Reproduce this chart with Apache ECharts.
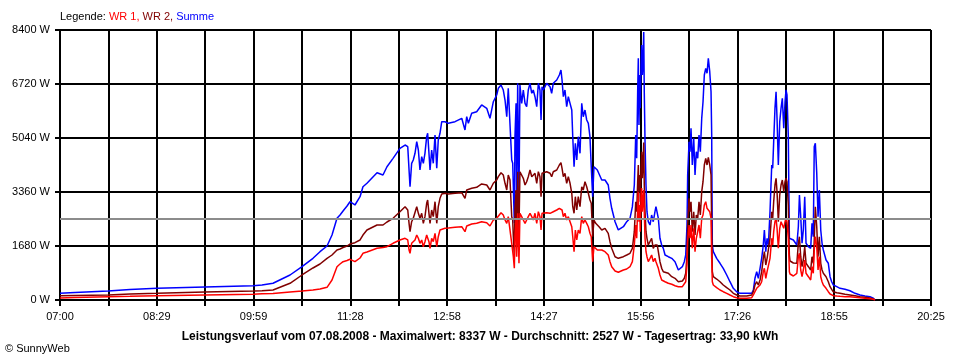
<!DOCTYPE html>
<html>
<head>
<meta charset="utf-8">
<script src="https://cdn.jsdelivr.net/npm/echarts@6/dist/echarts.min.js"></script>
<style>
html,body{margin:0;padding:0;background:#fff;}
#chart{width:960px;height:360px;}
</style>
</head>
<body>
<div id="chart"></div>
<script>
// time in minutes after 07:00
const minutes = [
0,13.9,44.4,64.7,89.6,134.0,178.4,186.7,196.9,212.6,
223.7,233.8,240.3,246.8,251.4,256.0,258.8,261.6,265.3,268.0,
272.6,277.3,280.0,283.7,293.0,298.5,302.2,307.8,314.2,318.9,
321.4,322.6,323.5,325.0,326.5,328.1,329.7,331.2,332.7,334.3,
335.8,337.3,338.9,339.8,341.0,342.0,343.5,345.0,346.6,348.2,
349.6,351.2,352.8,355.8,358.9,365.1,371.3,374.3,375.9,377.4,
380.5,385.1,389.7,394.4,397.4,400.5,403.6,405.1,407.6,409.7,
411.3,412.9,414.3,415.9,417.5,418.4,419.0,419.9,420.5,421.5,
422.1,423.0,424.2,425.1,426.7,428.2,429.8,431.3,432.8,434.4,
436.0,437.4,439.0,440.6,442.1,443.6,444.6,445.5,446.7,449.8,
452.9,454.4,455.9,459.1,461.5,463.0,464.0,465.2,466.7,468.3,
469.8,471.4,473.0,473.9,475.1,476.3,477.6,479.0,480.6,482.2,
483.6,485.2,486.8,488.3,489.8,491.0,492.3,493.5,495.1,496.6,
498.2,500.7,502.1,503.7,505.3,506.7,508.3,509.9,513.0,516.0,
517.6,520.7,523.8,526.8,529.0,530.8,532.1,533.0,533.9,534.5,
535.1,535.8,536.3,537.0,537.6,538.2,538.8,539.5,540.0,540.7,
541.6,542.5,543.7,545.3,546.8,548.3,549.9,550.8,552.0,553.0,
554.5,556.1,557.6,559.2,562.2,565.4,568.4,571.5,573.0,575.2,
577.0,578.3,579.5,580.1,581.4,582.3,583.2,584.4,585.7,586.9,
588.1,589.4,590.6,591.8,593.1,594.3,595.5,596.8,598.0,599.2,
600.5,601.7,602.3,602.9,603.8,606.9,610.0,613.0,616.2,619.2,
622.3,625.4,628.5,634.7,639.3,640.8,642.3,643.9,645.4,647.0,
648.5,650.0,651.0,652.3,653.5,654.7,656.2,657.8,658.7,659.6,
660.8,661.8,662.7,663.9,665.2,666.4,667.6,668.9,670.1,671.0,
671.9,673.1,674.1,674.7,677.8,681.0,682.4,683.4,684.6,685.8,
687.0,688.3,689.5,691.7,693.8,695.0,696.2,697.1,698.1,699.4,
700.6,701.8,703.1,704.3,705.5,708.0,710.1,711.7,713.2,714.7,
717.9,720.9,725.5,730.1,734.8,739.4,744.0,748.6,751.7,753.2
];

const wr1 = [
62,78,103,115,134,156,177,193,202,249,
280,311,342,395,622,1036,1120,1192,1229,1266,
1192,1307,1453,1493,1608,1633,1658,1764,1867,1920,
1867,1556,1453,1764,1814,1867,2022,1920,1764,1867,
1658,1814,2022,2075,1814,1608,1920,1814,2075,1658,
1969,2178,2231,2231,2240,2262,2280,2125,2302,2302,
2364,2386,2436,2405,2302,2489,2542,2592,2716,2644,
2489,2386,2592,2592,1764,1711,1347,986,1969,2489,
1347,2697,1142,2697,2592,2489,2386,2489,2592,2697,
2592,2489,2697,2386,2747,2592,2178,2697,2644,2716,
2697,2644,2747,2800,2853,2903,2800,2592,2697,2489,
2592,2436,2280,1969,1503,2178,1867,2178,2075,2592,
2386,2489,2386,2280,2075,1969,1192,1658,1608,1556,
1503,1556,1503,1503,1503,1400,1192,1036,902,862,
902,933,964,1036,1192,1711,2333,1920,2853,3369,
2436,2956,2125,3164,3484,2747,3058,3422,2747,1920,
1503,1347,1192,1297,1400,1192,1297,1192,1142,986,
778,622,569,569,520,488,445,414,364,414,
467,569,1089,1814,2333,1920,2333,1608,2231,1503,
1920,1920,2333,1920,2542,2644,2956,3058,2853,2903,
2747,2542,1297,569,467,383,311,258,208,156,
103,72,53,53,72,156,258,364,311,467,
569,880,986,675,880,880,1297,1920,1711,2125,
2436,2542,2231,1608,2231,2436,2489,2231,2436,2542,
2436,1920,880,809,747,831,1347,1453,933,725,
933,1244,831,725,622,1036,831,1556,1969,1658,
933,1347,725,569,467,364,258,187,156,134,
124,115,103,103,84,72,53,40,22,0
];

const wr2 = [
134,140,156,187,208,249,280,289,311,520,
778,996,1120,1297,1400,1556,1587,1633,1680,1742,
1783,1867,2022,2178,2333,2333,2427,2542,2747,2903,
2800,2386,2125,2436,2542,2592,2903,2697,2542,2697,
2386,2592,3008,3111,2697,2386,2800,2592,3058,2386,
2903,3164,3298,3320,3298,3320,3338,3164,3422,3369,
3475,3506,3609,3578,3422,3631,3733,3836,3960,3889,
3631,3422,3889,3733,2592,2489,1969,1347,2800,3422,
1764,3991,2178,3991,3942,3786,3578,3680,3836,4044,
3836,3786,3942,3631,3991,3836,3214,3942,3889,3991,
3942,3836,3991,4044,4200,4271,4097,3836,3942,3631,
3836,3631,3320,2903,2697,3214,2800,3214,2903,3525,
3422,3680,3525,3320,3111,3008,1969,2489,2386,2333,
2280,2178,2231,2231,2209,2075,1814,1608,1347,1297,
1322,1347,1400,1453,1608,2125,3058,2747,3680,4200,
3369,3889,3058,4097,4614,3786,4200,4900,3578,2747,
2125,1920,1711,1711,1920,1608,1711,1711,1711,1503,
1192,986,880,831,831,725,675,569,520,591,
675,831,1400,2333,3164,2747,3058,2125,2747,2022,
2644,2542,3058,2644,3369,3680,4200,4408,4200,4440,
4200,3889,2333,880,725,653,569,467,383,311,
208,156,124,124,156,258,467,569,467,622,
880,1297,1503,1089,1297,1297,1920,2747,2542,3058,
3578,3786,3369,2436,3267,3578,3733,3369,3680,3786,
3680,2956,1400,1213,1151,1142,1764,1969,1347,1036,
1244,1658,1142,1036,933,1347,1142,1867,2903,2280,
1347,1969,1142,933,831,725,569,414,333,258,
227,208,177,156,134,103,84,62,31,0
];

const summe = [
208,233,280,327,364,404,445,467,520,778,
1036,1297,1503,1680,2022,2542,2644,2769,2924,3058,
2956,3214,3525,3631,3960,3889,4147,4408,4719,4822,
4769,4044,3525,4253,4356,4564,4925,4667,4044,4458,
4253,4564,5081,5186,4564,4044,4667,4253,5133,4097,
4978,5186,5547,5547,5497,5547,5653,5289,5703,5497,
5808,5858,6067,5964,5653,6169,6378,6586,6689,6533,
6222,5703,6586,6533,4356,4253,3525,2386,5081,6119,
2592,6742,3214,6689,6119,6533,6119,6014,6533,6742,
6431,6533,6325,6014,6742,6533,5600,6636,6533,6742,
6636,6431,6742,6844,7000,7156,6844,6325,6533,6014,
6325,6119,5911,5081,4147,4875,4356,5081,4564,6119,
5703,5911,5600,5497,5081,4147,3214,4147,4147,4044,
3991,3733,3733,3733,3786,3578,3164,2853,2436,2178,
2147,2280,2436,2542,2903,3578,5133,4408,6480,7519,
5444,7000,5964,7311,7933,7000,7311,8337,6480,4925,
3578,2747,2436,2333,2644,2436,2747,2903,2853,2542,
1920,1711,1608,1400,1347,1297,1192,933,880,1036,
1192,1400,2333,3889,4925,4614,5342,4200,5031,3889,
4614,4408,5133,4614,5653,6169,7000,7208,7053,7519,
7103,6480,5186,1711,1503,1297,1142,986,778,569,
364,258,208,208,208,311,675,880,675,986,
1297,1711,2178,1503,1920,1711,2747,4200,4097,4925,
5964,6480,5653,4200,5547,5964,6275,5342,6169,6533,
6378,5133,1920,1969,1867,1711,2280,3267,2592,1764,
2178,3214,1764,1658,1608,2386,1969,4769,4875,3942,
2592,3422,2178,1764,1556,1244,1142,725,569,467,
414,364,333,289,208,156,124,103,53,0
];

const xTickLabels = ['07:00','08:29','09:59','11:28','12:58','14:27','15:56','17:26','18:55','20:25'];
const averageW = 2527;
const spanMinutes = 805;
const xStep = spanMinutes / 18;

const FONT = '"Liberation Sans", Arial, sans-serif';
const chart = echarts.init(document.getElementById('chart'), null, {renderer: 'canvas'});

function pairs(vals) {
  const n = Math.min(minutes.length, vals.length);
  const out = [];
  for (let i = 0; i < n; i++) out.push([minutes[i], vals[i]]);
  return out;
}

chart.setOption({
  animation: false,
  backgroundColor: '#ffffff',
  title: [
    {
      text: '{k|Legende: }{a|WR 1, }{b|WR 2, }{c|Summe}',
      left: 60, top: 11, padding: 0,
      textStyle: {
        fontSize: 11, fontFamily: FONT, fontWeight: 'normal',
        rich: {
          k: {color: '#000000', fontSize: 11, fontFamily: FONT},
          a: {color: '#ff0000', fontSize: 11, fontFamily: FONT},
          b: {color: '#800000', fontSize: 11, fontFamily: FONT},
          c: {color: '#0000ff', fontSize: 11, fontFamily: FONT}
        }
      }
    },
    {
      text: 'Leistungsverlauf vom 07.08.2008 - Maximalwert: 8337 W - Durchschnitt: 2527 W - Tagesertrag: 33,90 kWh',
      left: 'center', top: 331, padding: 0,
      textStyle: {fontSize: 12, fontFamily: FONT, fontWeight: 'bold', color: '#000000'}
    },
    {
      text: '© SunnyWeb',
      left: 5, top: 343, padding: 0,
      textStyle: {fontSize: 11, fontFamily: FONT, fontWeight: 'normal', color: '#000000'}
    }
  ],
  grid: {left: 60, right: 29, top: 30, bottom: 60, containLabel: false},
  xAxis: {
    type: 'value',
    min: 0, max: spanMinutes, interval: xStep,
    axisLine: {show: true, onZero: false, lineStyle: {color: '#000', width: 2}},
    axisTick: {show: true, length: 6, lineStyle: {color: '#000', width: 2}},
    splitLine: {show: true, lineStyle: {color: '#000', width: 2}},
    axisLabel: {
      show: true, margin: 11, color: '#000', fontSize: 11, fontFamily: FONT,
      showMinLabel: true, showMaxLabel: true, hideOverlap: false,
      formatter: function (v) {
        const i = Math.round(v / xStep);
        return (i % 2 === 0) ? (xTickLabels[i / 2] || '') : '';
      }
    }
  },
  yAxis: {
    type: 'value',
    min: 0, max: 8400, interval: 1680,
    axisLine: {show: true, lineStyle: {color: '#000', width: 2}},
    axisTick: {show: true, length: 5, lineStyle: {color: '#000', width: 2}},
    splitLine: {show: true, lineStyle: {color: '#000', width: 2}},
    axisLabel: {
      show: true, margin: 10, color: '#000', fontSize: 11, fontFamily: FONT,
      formatter: function (v) { return v + ' W'; }
    }
  },
  series: [
    {
      name: 'Summe', type: 'line', data: pairs(summe),
      showSymbol: false, symbol: 'none', smooth: false,
      lineStyle: {color: '#0000ff', width: 1.5}, itemStyle: {color: '#0000ff'},
      z: 2,
      markLine: {
        silent: true, symbol: 'none', animation: false,
        label: {show: false},
        lineStyle: {color: '#8c8c8c', width: 2, type: 'solid'},
        data: [{yAxis: averageW}]
      }
    },
    {
      name: 'WR 2', type: 'line', data: pairs(wr2),
      showSymbol: false, symbol: 'none', smooth: false,
      lineStyle: {color: '#800000', width: 1.5}, itemStyle: {color: '#800000'},
      z: 3
    },
    {
      name: 'WR 1', type: 'line', data: pairs(wr1),
      showSymbol: false, symbol: 'none', smooth: false,
      lineStyle: {color: '#ff0000', width: 1.5}, itemStyle: {color: '#ff0000'},
      z: 4
    }
  ]
});
</script>
</body>
</html>
